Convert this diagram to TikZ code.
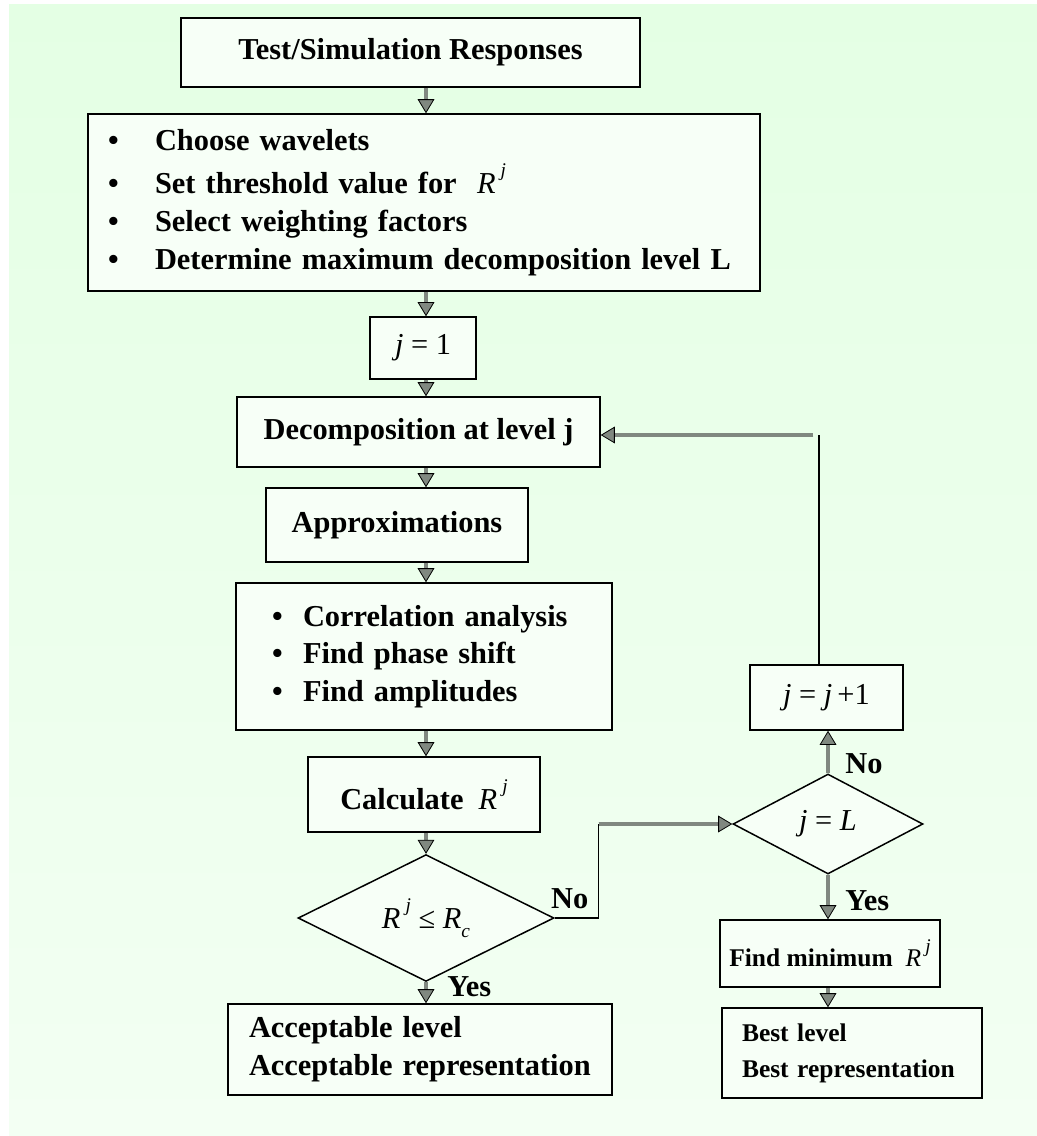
\documentclass[tikz,border=0pt]{standalone}
\usepackage{fontspec}
\setmainfont{Liberation Serif}
\usetikzlibrary{positioning,shapes.geometric,arrows.meta}

\definecolor{bgtop}{RGB}{228,255,228}
\definecolor{bgbot}{RGB}{243,255,243}
\definecolor{boxfill}{RGB}{247,255,247}
\definecolor{arrowgray}{RGB}{128,136,128}

\newcommand{\vi}[1]{\textnormal{\itshape #1}}
\newcommand{\Rj}{\vi{R}\,\raisebox{0.55em}{\fontsize{11}{11}\selectfont\vi{j}}}

\begin{document}
\begin{tikzpicture}[x=0.02cm, y=-0.02cm,
  every node/.style={font=\fontsize{17.3}{21.5}\selectfont\bfseries},
  box/.style={draw, line width=0.85pt, fill=boxfill, inner sep=0pt, align=center},
  decision/.style={diamond, draw, line width=0.85pt, fill=boxfill, inner sep=0pt},
  flowarrow/.style={draw=black, line width=0.45pt, double=arrowgray, double distance=1.9pt,
    -{Triangle[fill=arrowgray, length=8pt, width=9.5pt]}},
  link/.style={line width=0.75pt},
  small/.style={font=\fontsize{14.5}{20.5}\selectfont\bfseries},
  answer/.style={inner sep=0pt}]

  \useasboundingbox (0,0) rectangle (1037,1136);
  \shade[top color=bgtop, bottom color=bgbot] (9,4) rectangle (1037,1136);

  % main column
  \node (test) [box, minimum width=9.18cm, minimum height=1.38cm] at (410.5,52.5) {Test/Simulation Responses};
  \node (setup) [box, align=left, minimum width=13.44cm, minimum height=3.54cm,
    inner xsep=0.4cm, text width=12.64cm] at (424,202.5)
    {\makebox[0.94cm][l]{\textbullet}\mbox{Choose wavelets}\\[3pt]
     \makebox[0.94cm][l]{\textbullet}\mbox{Set threshold value for \ \Rj}\\
     \makebox[0.94cm][l]{\textbullet}\mbox{Select weighting factors}\\
     \makebox[0.94cm][l]{\textbullet}\mbox{Determine maximum decomposition level L}};
  \node (jone) [box, minimum width=2.12cm, minimum height=1.24cm] at (423,348)
    {\vi{j}\ \textnormal{= 1}};
  \node (decomp) [box, minimum width=7.26cm, minimum height=1.4cm] at (418.5,432) {Decomposition at level j};
  \node (approx) [box, minimum width=5.24cm, minimum height=1.48cm] at (397,525) {Approximations};
  \node (corr) [box, align=left, minimum width=7.52cm, minimum height=2.94cm,
    inner xsep=0.72cm, text width=6.08cm] at (424,656.5)
    {\makebox[0.62cm][l]{\textbullet}\mbox{Correlation analysis}\\
     \makebox[0.62cm][l]{\textbullet}\mbox{Find phase shift}\\
     \makebox[0.62cm][l]{\textbullet}\mbox{Find amplitudes}};
  \node (calc) [box, minimum width=4.64cm, minimum height=1.5cm] at (424,794.5) {Calculate \ \Rj};
  \node (dec1) [decision, minimum width=5.12cm, minimum height=2.36cm] at (426,918)
    {\Rj\ \textnormal{≤} \vi{R}\raisebox{-0.3em}{\fontsize{11}{11}\selectfont\vi{c}}};
  \node (accept) [box, align=left, minimum width=7.68cm, minimum height=1.82cm,
    inner xsep=0.42cm, text width=6.84cm] at (420,1049.5)
    {\mbox{Acceptable level}\\\mbox{Acceptable representation}};

  % right column
  \node (jinc) [box, minimum width=3.06cm, minimum height=1.3cm] at (826.5,697.5)
    {\vi{j}\ \textnormal{=}\ \vi{j}\,\textnormal{+1}};
  \node (dec2) [decision, minimum width=3.8cm, minimum height=2cm] at (828,824)
    {\vi{j}\ \textnormal{=}\ \vi{L}};
  \node (findmin) [box, small, minimum width=4.4cm, minimum height=1.34cm] at (830,953.5) {Find minimum \ \Rj};
  \node (best) [box, small, align=left, minimum width=5.2cm, minimum height=1.8cm,
    inner xsep=0.4cm, text width=4.4cm] at (852,1053)
    {\mbox{Best level}\\\mbox{Best representation}};

  % answers
  \node (no1) [answer, above right=0.18cm and -0.08cm of dec1.east] {No};
  \node (yes1) [answer, below right=-0.12cm and 0.42cm of dec1.south] {Yes};
  \node (no2) [answer, above right=-0.02cm and 0.34cm of dec2.north] {No};
  \node (yes2) [answer, below right=0.3cm and 0.34cm of dec2.south] {Yes};

  % connectors
  \coordinate (spine) at (426,0);
  \draw[flowarrow] (test.south -| spine) -- (setup.north -| spine);
  \draw[flowarrow] (setup.south -| spine) -- (jone.north -| spine);
  \draw[flowarrow] (jone.south -| spine) -- (decomp.north -| spine);
  \draw[flowarrow] (decomp.south -| spine) -- (approx.north -| spine);
  \draw[flowarrow] (approx.south -| spine) -- (corr.north -| spine);
  \draw[flowarrow] (corr.south -| spine) -- (calc.north -| spine);
  \draw[flowarrow] (calc.south -| spine) -- (dec1.north);
  \draw[flowarrow] (dec1.south) -- (accept.north -| dec1.south);

  \draw[link] (dec1.east) -- ++(44,0) coordinate (bend) -- (bend |- dec2.west);
  \draw[flowarrow] (bend |- dec2.west) -- (dec2.west);
  \draw[flowarrow] (dec2.north) -- (jinc.south -| dec2.north);
  \draw[flowarrow] (dec2.south) -- (findmin.north -| dec2.south);
  \draw[flowarrow] (findmin.south -| dec2.south) -- (best.north -| dec2.south);

  % loop back
  \coordinate (turn) at (819,435);
  \draw[link] (jinc.north -| turn) -- (turn);
  \draw[flowarrow] ([xshift=-0.12cm]turn) -- (decomp.east |- turn);
\end{tikzpicture}
\end{document}
